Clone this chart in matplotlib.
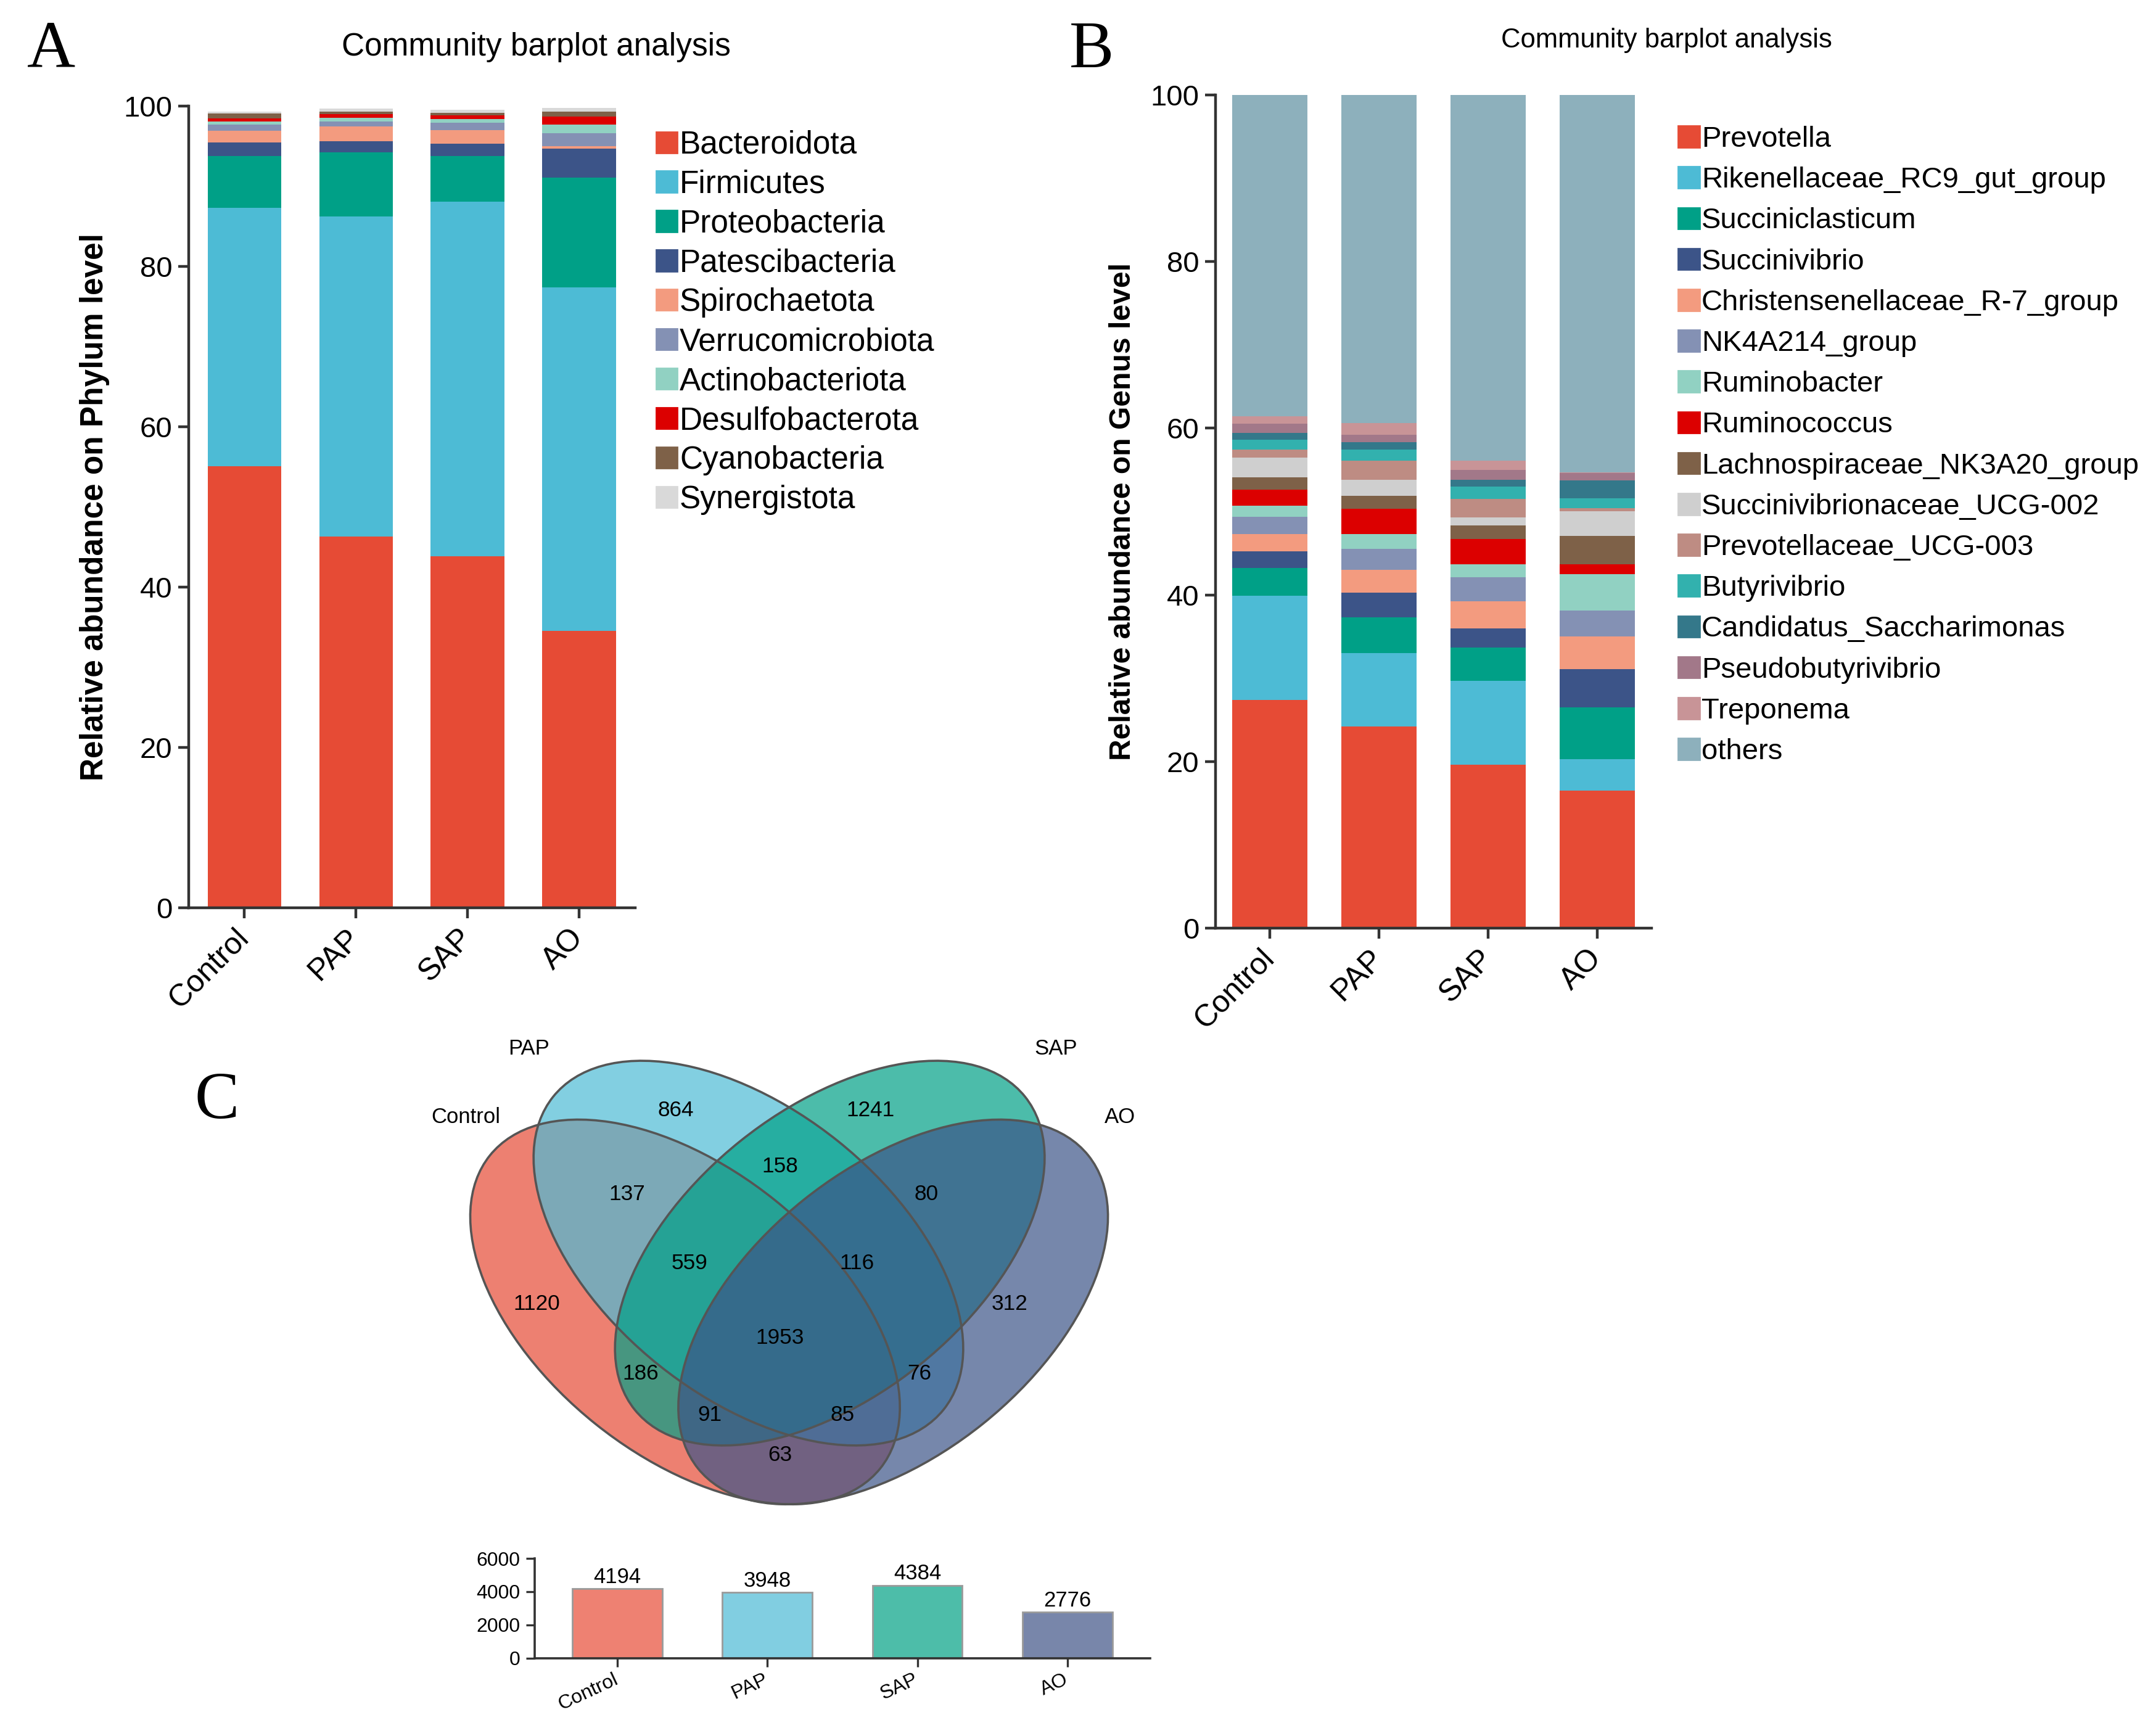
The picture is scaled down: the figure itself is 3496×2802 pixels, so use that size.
import numpy as np
import matplotlib
matplotlib.use("Agg")
import matplotlib.pyplot as plt
from matplotlib.patches import Ellipse, Patch

plt.rcParams['font.family'] = ['Liberation Sans', 'DejaVu Sans']

#data
groups = ['Control', 'PAP', 'SAP', 'AO']

phyla = ['Bacteroidota', 'Firmicutes', 'Proteobacteria', 'Patescibacteria',
         'Spirochaetota', 'Verrucomicrobiota', 'Actinobacteriota',
         'Desulfobacterota', 'Cyanobacteria', 'Synergistota']
phylum_control = [55.05, 32.21, 6.51, 1.69, 1.46, 0.77, 0.34, 0.43, 0.57, 0.25]
phylum_pap     = [46.30, 39.90, 8.03, 1.33, 1.88, 0.59, 0.48, 0.46, 0.34, 0.33]
phylum_sap     = [43.80, 44.23, 5.74, 1.49, 1.71, 0.93, 0.43, 0.46, 0.36, 0.34]
phylum_ao      = [34.56, 42.82, 13.64, 3.64, 0.31, 1.64, 1.08, 0.97, 0.62, 0.46]

genera = ['Prevotella', 'Rikenellaceae_RC9_gut_group', 'Succiniclasticum',
          'Succinivibrio', 'Christensenellaceae_R-7_group', 'NK4A214_group',
          'Ruminobacter', 'Ruminococcus', 'Lachnospiraceae_NK3A20_group',
          'Succinivibrionaceae_UCG-002', 'Prevotellaceae_UCG-003', 'Butyrivibrio',
          'Candidatus_Saccharimonas', 'Pseudobutyrivibrio', 'Treponema', 'others']
genus_control = [27.4, 12.5, 3.3, 2.0, 2.1, 2.1, 1.3, 1.9, 1.5, 2.4, 0.9, 1.2, 0.8, 1.1, 0.9, 38.6]
genus_pap     = [24.2, 8.8, 4.3, 3.0, 2.7, 2.5, 1.8, 3.0, 1.6, 1.9, 2.3, 1.3, 0.9, 0.9, 1.4, 39.4]
genus_sap     = [19.6, 10.1, 4.0, 2.3, 3.2, 2.9, 1.6, 3.0, 1.6, 1.0, 2.2, 1.5, 0.8, 1.2, 1.1, 43.9]
genus_ao      = [16.5, 3.8, 6.2, 4.6, 3.9, 3.1, 4.4, 1.2, 3.4, 2.9, 0.4, 1.2, 2.1, 0.9, 0.1, 45.3]

# venn region counts
venn_labels = ['864', '1241', '1120', '312', '137', '158', '80', '559',
               '116', '1953', '186', '76', '91', '85', '63']
otu_totals = [4194, 3948, 4384, 2776]

#colours
npg = ['#E64B35', '#4DBBD5', '#00A087', '#3C5488', '#F39B7F', '#8491B4',
       '#91D1C2', '#DC0000', '#7E6148']
phylum_colors = npg + ['#D9D9D9']
genus_colors = npg + ['#CFCFCF', '#BE8C83', '#32B1AE', '#34788A', '#A27889',
                      '#C89497', '#8DB0BC']
venn_colors = ['#E64B35', '#4DBBD5', '#00A087', '#3C5488']
bar_colors = ['#EE8172', '#81CEE1', '#4DBDA9', '#7886AA']

fig = plt.figure(figsize=(17.48, 14.01), dpi=200)
W, H = 1560.0, 1250.0   # layout in reference pixel units


def fbox(x0, y_top, x1, y_bot):
    return [x0 / W, 1 - y_bot / H, (x1 - x0) / W, (y_bot - y_top) / H]


def stacked(ax, rows, colors, width):
    data = np.array(rows)
    x = np.arange(len(groups))
    bottom = np.zeros(len(groups))
    for j in range(data.shape[1]):
        ax.bar(x, data[:, j], width, bottom=bottom, color=colors[j], linewidth=0)
        bottom += data[:, j]


def style(ax):
    for s in ['top', 'right']:
        ax.spines[s].set_visible(False)
    for s in ['left', 'bottom']:
        ax.spines[s].set_color('#333333')
        ax.spines[s].set_linewidth(1.6)
    ax.tick_params(length=6, width=1.6, color='#333333', labelsize=17)
    ax.tick_params(axis='x', pad=9)
    ax.set_xlim(-0.5, 3.5)
    ax.set_ylim(0, 100)
    ax.set_yticks([0, 20, 40, 60, 80, 100])
    ax.set_xticks(range(len(groups)))
    ax.set_xticklabels(groups, rotation=45, ha='right', va='center',
                       rotation_mode='anchor', fontsize=18)


#panel A
axA = fig.add_axes(fbox(136.5, 76.6, 459.4, 656.6))
stacked(axA, [phylum_control, phylum_pap, phylum_sap, phylum_ao], phylum_colors, 0.66)
style(axA)
axA.set_ylabel('Relative abundance on Phylum level', fontsize=18.5, fontweight='bold', labelpad=8)
fig.text(388 / W, 1 - 34 / H, 'Community barplot analysis', fontsize=18.5, ha='center', va='center')
hA = [Patch(color=c) for c in phylum_colors]
axA.legend(hA, phyla, loc='upper left', bbox_to_anchor=(475 / W, 1 - 94 / H),
           bbox_transform=fig.transFigure, frameon=False, fontsize=18.5,
           handlelength=0.65, handleheight=0.65, handletextpad=0.08,
           labelspacing=0.29, borderpad=0, borderaxespad=0)

#panel B
axB = fig.add_axes(fbox(879.5, 68.5, 1195, 671.5))
stacked(axB, [genus_control, genus_pap, genus_sap, genus_ao], genus_colors, 0.69)
style(axB)
axB.set_ylabel('Relative abundance on Genus level', fontsize=17.3, fontweight='bold', labelpad=8)
fig.text(1206 / W, 1 - 29 / H, 'Community barplot analysis', fontsize=15.7, ha='center', va='center')
hB = [Patch(color=c) for c in genus_colors]
axB.legend(hB, genera, loc='upper left', bbox_to_anchor=(1214 / W, 1 - 91 / H),
           bbox_transform=fig.transFigure, frameon=False, fontsize=17,
           handlelength=0.75, handleheight=0.75, handletextpad=0.06,
           labelspacing=0.47, borderpad=0, borderaxespad=0)

#panel C venn (layout units: reference crop pixels, y down)
axV = fig.add_axes(fbox(312.4, 736.3, 825.6, 1096.3))
axV.set_xlim(0, 1568)
axV.set_ylim(-1100, 0)
axV.axis('off')
ea, eb, ang = 553, 317, 38.7
centres = [(560, -650), (700, -520), (880, -520), (1020, -650)]
angles = [-ang, -ang, ang, ang]
for (cx, cy), a_, col in zip(centres, angles, venn_colors):
    axV.add_patch(Ellipse((cx, cy), 2 * ea, 2 * eb, angle=a_, facecolor=col,
                          alpha=0.7, edgecolor='none'))
for (cx, cy), a_ in zip(centres, angles):
    axV.add_patch(Ellipse((cx, cy), 2 * ea, 2 * eb, angle=a_, facecolor='none',
                          edgecolor='#555555', linewidth=1.3))
label_pos = [(540, 205), (970, 205), (232, 632), (1278, 632), (432, 390),
             (770, 328), (1093, 390), (570, 543), (940, 543), (770, 708),
             (462, 787), (1078, 787), (615, 878), (908, 878), (770, 967)]
for (lx, ly), t in zip(label_pos, venn_labels):
    axV.text(lx, -ly, t, ha='center', va='center', fontsize=12.7)
set_pos = [(75, 220), (215, 68), (1380, 68), (1522, 220)]
for (lx, ly), g in zip(set_pos, groups):
    axV.text(lx, -ly, g, ha='center', va='center', fontsize=12.5)

#panel C bars
axC = fig.add_axes(fbox(387, 1127.4, 832, 1199.4))
xc = np.arange(len(groups))
axC.bar(xc, otu_totals, 0.6, color=bar_colors, edgecolor='#9a9a9a', linewidth=1)
for xi, v in zip(xc, otu_totals):
    axC.text(xi, v + 80, str(v), ha='center', va='bottom', fontsize=12.5)
axC.set_xlim(-0.55, 3.55)
axC.set_ylim(0, 6000)
axC.set_yticks([0, 2000, 4000, 6000])
axC.set_xticks(xc)
axC.set_xticklabels(groups, rotation=25, ha='right', va='center',
                    rotation_mode='anchor', fontsize=11.5)
for s in ['top', 'right']:
    axC.spines[s].set_visible(False)
for s in ['left', 'bottom']:
    axC.spines[s].set_color('#333333')
    axC.spines[s].set_linewidth(1.3)
axC.tick_params(length=5, width=1.2, color='#333333', labelsize=11.5)
axC.tick_params(axis='x', pad=7)

#panel letters
for txt, x, y in [('A', 37, 37), ('B', 790, 37), ('C', 157, 797)]:
    fig.text(x / W, 1 - y / H, txt, fontsize=39, family='Liberation Serif',
             ha='center', va='center')

fig.savefig('out.png', dpi=200)
